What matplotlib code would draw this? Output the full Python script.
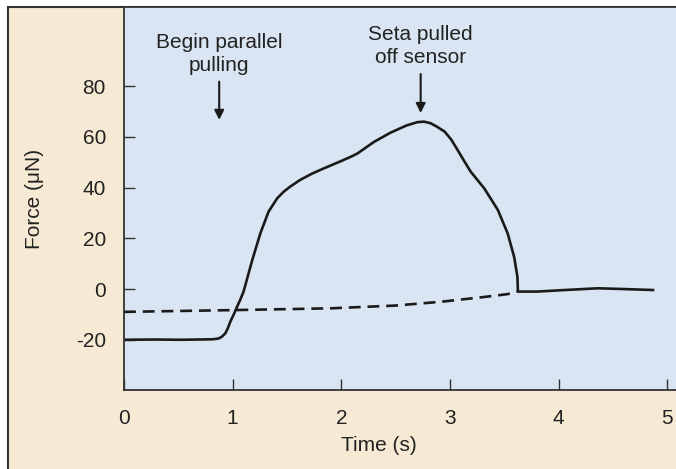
import matplotlib
matplotlib.use('Agg')
import matplotlib.pyplot as plt
from matplotlib.patches import Rectangle

plt.rcParams['font.family'] = ['Liberation Sans', 'DejaVu Sans']
plt.rcParams['axes.unicode_minus'] = False

time_s = [0.0, 0.3, 0.52, 0.82, 0.87, 0.90, 0.932, 0.955, 0.978, 1.01, 1.04, 1.07, 1.10,
          1.13, 1.18, 1.255, 1.33, 1.41, 1.47, 1.53, 1.62, 1.73, 1.84, 2.0, 2.1, 2.15,
          2.2, 2.3, 2.45, 2.6, 2.7, 2.76, 2.82, 2.88, 2.95, 3.01, 3.07, 3.13, 3.19,
          3.315, 3.44, 3.53, 3.59, 3.62, 3.625, 3.8, 4.05, 4.36, 4.6, 4.88]
force_uN = [-20.0, -19.9, -20.0, -19.8, -19.5, -18.8, -17.5, -15.5, -12.9, -10.0, -7.0,
            -4.2, -1.0, 3.6, 11.4, 22.0, 30.5, 35.8, 38.4, 40.4, 43.0, 45.5, 47.6,
            50.5, 52.4, 53.5, 55.0, 58.0, 61.6, 64.5, 65.8, 66.0, 65.4, 64.0, 62.1,
            59.0, 54.8, 50.5, 46.3, 39.7, 31.2, 22.0, 12.7, 4.9, -1.0, -1.0, -0.4,
            0.3, 0.0, -0.4]

# baseline (dashed)
base_t = [0.0, 1.0, 1.9, 2.5, 2.92, 3.3, 3.53, 3.62]
base_f = [-9.0, -8.3, -7.6, -6.5, -5.0, -3.2, -2.0, -1.0]

xticks = [0, 1, 2, 3, 4, 5]
yticks = [-20, 0, 20, 40, 60, 80]

fig = plt.figure(figsize=(6.76, 4.69), dpi=100, facecolor='white')
fig.patches.append(Rectangle((8/676, -0.01), 1.0, 1 - 7/469 + 0.01,
                             transform=fig.transFigure, facecolor='#f7ead4',
                             edgecolor='#333333', linewidth=1.5, zorder=-5))

ax = fig.add_axes([124/676, 1 - 390/469, 1 - 124/676 + 0.002, (390 - 7)/469])
ax.set_zorder(2)
ax.set_facecolor('#d9e5f3')

ax.plot(time_s, force_uN, color='#1a1a1a', linewidth=1.9,
        solid_joinstyle='round', solid_capstyle='butt')
ax.plot(base_t, base_f, color='#1a1a1a', linewidth=1.9, dashes=(4.5, 2.6))

ax.set_xlim(0, 5.092)
ax.set_ylim(-39.8, 111.2)
ax.set_xticks(xticks)
ax.set_yticks(yticks)
ax.tick_params(direction='in', length=8, width=1.0, color='#333333',
               labelsize=15, labelcolor='#222222')
ax.tick_params(axis='y', pad=13)
ax.tick_params(axis='x', pad=14)

ax.spines['right'].set_visible(False)
for s in ['left', 'bottom', 'top']:
    ax.spines[s].set_color('#333333')
    ax.spines[s].set_linewidth(1.3)

ax.set_xlabel('Time (s)', fontsize=15, color='#222222')
ax.xaxis.set_label_coords((378 - 124)/(676 - 124), -(436 - 390)/383)
ax.set_ylabel('Force (μN)', fontsize=15, color='#222222')
ax.yaxis.set_label_coords(-(124 - 44)/552, 0.5)

ax.annotate('Begin parallel\npulling', xy=(0.876, 66.7), xytext=(0.876, 84.5),
            ha='center', va='bottom', fontsize=15, color='#222222', linespacing=1.25,
            arrowprops=dict(arrowstyle='-|>', color='#1a1a1a', lw=1.5,
                            mutation_scale=14, shrinkA=3, shrinkB=0))
ax.annotate('Seta pulled\noff sensor', xy=(2.73, 69.4), xytext=(2.73, 87.5),
            ha='center', va='bottom', fontsize=15, color='#222222', linespacing=1.25,
            arrowprops=dict(arrowstyle='-|>', color='#1a1a1a', lw=1.5,
                            mutation_scale=14, shrinkA=3, shrinkB=0))

fig.savefig('out.png', dpi=100, facecolor=fig.get_facecolor())
